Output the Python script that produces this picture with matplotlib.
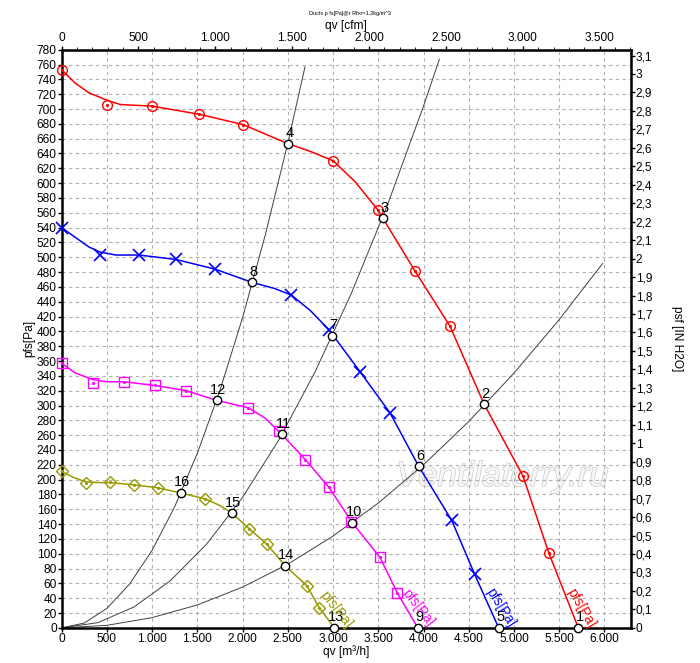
import numpy as np
import matplotlib.pyplot as plt
import matplotlib.patheffects as pe
from matplotlib.ticker import MultipleLocator, FuncFormatter

plt.rcParams['font.family'] = ['Liberation Sans', 'DejaVu Sans']

# fan curves pfs [Pa] vs qv [m3/h]: line points and measured markers
red_line_q = [0, 150, 300, 499, 650, 997, 1519, 2006, 2506, 2746, 3003, 3243, 3494, 3903, 4293, 4669, 5099, 5385, 5711]
red_line_p = [753, 735, 722, 712, 706, 704, 693, 679, 653, 643, 630, 602, 564, 482, 407, 302, 205, 101, 0]
red_mark_q = [0, 499, 997, 1519, 2006, 3003, 3494, 3903, 4293, 5099, 5385]
red_mark_p = [753, 705, 704, 693, 679, 630, 564, 482, 407, 205, 101]

blue_line_q = [0, 150, 300, 425, 600, 856, 1265, 1696, 2108, 2350, 2539, 2750, 2956, 3302, 3630, 3947, 4312, 4566, 4831]
blue_line_p = [540, 527, 514, 507, 503, 503, 497, 484, 466, 458, 449, 428, 402, 345, 290, 218, 145, 72, 0]
blue_mark_q = [0, 425, 856, 1265, 1696, 2539, 2956, 3302, 3630, 4312, 4566]
blue_mark_p = [540, 503, 503, 497, 484, 449, 402, 345, 290, 145, 72]

mag_line_q = [0, 150, 345, 500, 691, 1033, 1376, 1715, 2061, 2250, 2433, 2694, 2952, 3213, 3519, 3711, 3936]
mag_line_p = [357, 344, 335, 332, 332, 327, 320, 307, 297, 283, 261, 227, 190, 142, 95, 47, 0]
mag_mark_q = [0, 345, 691, 1033, 1376, 2061, 2403, 2694, 2952, 3196, 3519, 3711]
mag_mark_p = [357, 331, 332, 327, 320, 297, 266, 227, 190, 143, 95, 47]

olive_line_q = [0, 130, 267, 400, 533, 798, 1063, 1317, 1589, 1750, 1880, 2072, 2267, 2470, 2709, 2849, 3014]
olive_line_p = [211, 203, 197, 196, 196, 193, 189, 182, 174, 165, 155, 134, 113, 84, 57, 27, 0]
olive_mark_q = [0, 267, 533, 798, 1063, 1589, 2072, 2267, 2709, 2849]
olive_mark_p = [211, 196, 197, 193, 189, 174, 134, 113, 57, 27]

# system curves
sys_a_q = [0, 250, 500, 750, 1000, 1250, 1500, 1750, 2000, 2250, 2500, 2690]
sys_a_p = [0, 6.5, 26.2, 58.8, 104.6, 163.4, 235.4, 320.3, 418.4, 529.5, 653.8, 757]
sys_b_q = [0, 400, 800, 1200, 1600, 2000, 2400, 2800, 3200, 3600, 4000, 4175]
sys_b_p = [0, 7.0, 28.2, 63.4, 112.6, 176, 253.4, 345, 450.6, 570, 704, 767]
sys_c_q = [0, 500, 1000, 1500, 2000, 2500, 3000, 3500, 4000, 4500, 5000, 5500, 5980]
sys_c_p = [0, 3.4, 13.8, 30.9, 55, 85.9, 123.8, 168.4, 220, 278.4, 343.8, 415.9, 491.7]

# operating points
op_q = [5711, 4669, 3549, 2506, 4831, 3947, 2989, 2108, 3936, 3213, 2433, 1715, 3014, 2470, 1880, 1317]
op_p = [0, 302, 553, 653, 0, 218, 394, 466, 0, 142, 261, 307, 0, 84, 155, 182]
op_labels = [str(i) for i in range(1, 17)]

fig = plt.figure(figsize=(7, 6.63), dpi=100)
ax = fig.add_axes([0.088, 0.053, 0.813, 0.872])
ax.set_xlim(0, 6290)
ax.set_ylim(0, 780)

ax.grid(True, color='#b0b0b0', linestyle=(0, (3, 3)), linewidth=0.8)
ax.xaxis.set_major_locator(MultipleLocator(500))
ax.yaxis.set_major_locator(MultipleLocator(20))

ax.text(0.775, 0.262, 'Ventilatorry.ru', transform=ax.transAxes, fontsize=25, style='italic',
        color='#f8f8f8', ha='center', va='center', zorder=1,
        path_effects=[pe.Stroke(linewidth=1.1, foreground='#cdcdcd'), pe.Normal()])

for q, p in [(sys_a_q, sys_a_p), (sys_b_q, sys_b_p), (sys_c_q, sys_c_p)]:
    ax.plot(q, p, color='#404040', lw=0.7, zorder=2)

series = [
    (red_line_q, red_line_p, red_mark_q, red_mark_p, '#ff0000', 'o'),
    (blue_line_q, blue_line_p, blue_mark_q, blue_mark_p, '#0000ff', 'x'),
    (mag_line_q, mag_line_p, mag_mark_q, mag_mark_p, '#ff00ff', 's'),
    (olive_line_q, olive_line_p, olive_mark_q, olive_mark_p, '#999900', 'D'),
]
for lq, lp, mq, mp, c, m in series:
    ax.plot(lq, lp, color=c, lw=1.1, zorder=3, clip_on=False)
    if m == 'x':
        ax.plot(mq, mp, ls='none', marker='x', ms=8, mew=1.2, color=c, zorder=4, clip_on=False)
    else:
        ms = 7 if m != 'D' else 6
        ax.plot(mq, mp, ls='none', marker=m, ms=ms, mfc='none', mec=c, mew=1.0, zorder=4, clip_on=False)
        ax.plot(mq, mp, ls='none', marker='.', ms=2.5, color=c, zorder=4, clip_on=False)

ax.plot(op_q, op_p, ls='none', marker='o', ms=6, mfc='white', mec='black', mew=1.0, zorder=5, clip_on=False)
for q, p, t in zip(op_q, op_p, op_labels):
    ax.annotate(t, (q, p), xytext=(1, 2.5), textcoords='offset points', ha='center', va='bottom',
                fontsize=10.5, zorder=6)

curve_tags = [(5740, 27, '#ff0000', -60), (4856, 28, '#0000ff', -58),
              (3939, 27, '#ff00ff', -52), (3033, 24, '#999900', -52)]
for q, p, c, r in curve_tags:
    ax.text(q, p, 'pfs[Pa]', color=c, fontsize=10, rotation=r, ha='center', va='center',
            rotation_mode='anchor', zorder=6)

fmt_int = FuncFormatter(lambda v, pos: f'{int(round(v)):,}'.replace(',', '.'))
ax.xaxis.set_major_formatter(fmt_int)
ax.yaxis.set_major_formatter(FuncFormatter(lambda v, pos: f'{int(round(v))}'))
ax.tick_params(labelsize=8.6, length=3, width=1, direction='out', pad=0.5)
for s in ax.spines.values():
    s.set_linewidth(1.8)

ax.set_xlabel('qv [m³/h]', fontsize=8.6, labelpad=0)
ax.set_ylabel('pfs[Pa]', fontsize=8.6, labelpad=1)

top = ax.secondary_xaxis('top', functions=(lambda q: q / 1.699, lambda c: c * 1.699))
top.xaxis.set_major_locator(MultipleLocator(500))
top.xaxis.set_minor_locator(MultipleLocator(100))
top.xaxis.set_major_formatter(fmt_int)
top.tick_params(labelsize=8.6, length=3, width=1, pad=1)
top.tick_params(which='minor', length=2)
top.set_xlabel('qv [cfm]', fontsize=8.6, labelpad=2.5)

right = ax.secondary_yaxis('right', functions=(lambda p: p / 249.09, lambda w: w * 249.09))
right.yaxis.set_major_locator(MultipleLocator(0.1))
right.yaxis.set_major_formatter(FuncFormatter(lambda v, pos: (f'{v:.1f}'.rstrip('0').rstrip('.')).replace('.', ',')))
right.tick_params(labelsize=8.6, length=3, width=1, pad=0.5)
right.set_ylabel('psf [IN H2O]', fontsize=8.6, rotation=270, labelpad=22)

fig.text(0.5, 0.98, 'Ducts p fs[Pa]@r Rho=1,2kg/m^3', fontsize=4, ha='center', va='center')

fig.savefig('out.png', dpi=100)
